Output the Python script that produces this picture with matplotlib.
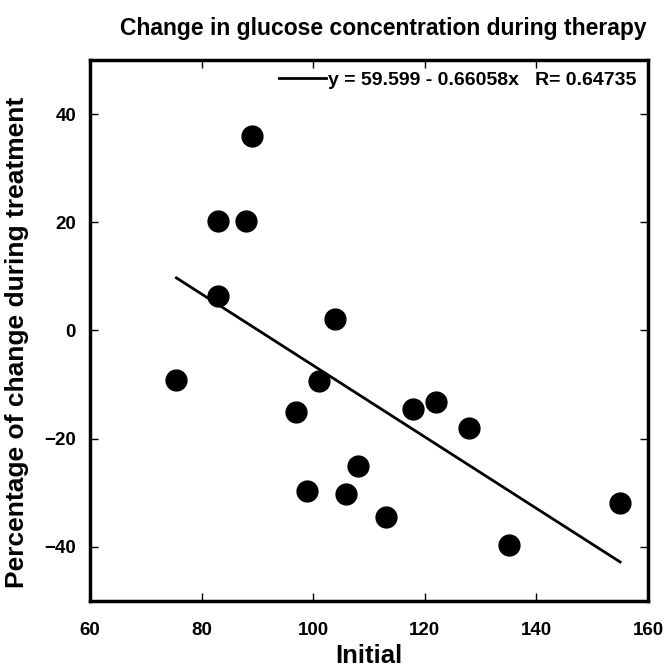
import numpy as np
import matplotlib.pyplot as plt

plt.rcParams['font.family'] = ['Liberation Sans', 'DejaVu Sans']
plt.rcParams['font.weight'] = 'bold'

initial = [75.5, 82.9, 88.0, 89.0, 82.9, 103.9, 101.0, 96.9, 117.9, 122.0,
           127.9, 108.0, 98.9, 105.9, 113.0, 135.1, 155.0]
change = [-9.2, 20.3, 20.3, 35.9, 6.4, 2.1, -9.3, -15.0, -14.6, -13.2,
          -18.0, -25.1, -29.6, -30.2, -34.5, -39.6, -31.9]

intercept = 59.599
slope = -0.66058
r_value = 0.64735

fig = plt.figure(figsize=(6.66, 6.72), dpi=100)
ax = fig.add_axes([0.135, 0.1057, 0.838, 0.805])

ax.plot(initial, change, 'o', color='black', markersize=15, zorder=3)

xfit = np.array([min(initial), max(initial)])
ax.plot(xfit, intercept + slope * xfit, '-', color='black', lw=2,
        label='y = {0:.3f} - {1:.5f}x   R= {2:.5f}'.format(intercept, -slope, r_value))

ax.set_xlim(60, 160)
ax.set_ylim(-50, 50)
ax.set_xticks([60, 80, 100, 120, 140, 160])
ax.set_yticks([-40, -20, 0, 20, 40])

for s in ax.spines.values():
    s.set_linewidth(2.5)
ax.tick_params(direction='in', top=True, right=True, length=6, width=1,
               labelsize=13.5)
ax.tick_params(axis='x', pad=15)
ax.tick_params(axis='y', pad=10)

ax.set_xlabel('Initial', fontsize=18.5, fontweight='bold', labelpad=4)
ax.set_ylabel('Percentage of change during treatment', fontsize=19,
              fontweight='bold')
ax.yaxis.set_label_coords(-0.11, 0.478)
fig.text(0.576, 0.957, 'Change in glucose concentration during therapy',
         ha='center', va='center', fontsize=16.5, fontweight='bold')

leg = ax.legend(loc='upper right', frameon=False, handlelength=2.4,
                handletextpad=0.1, borderaxespad=0.2,
                prop={'size': 14, 'weight': 'bold'})

fig.savefig('out.png', dpi=100)
